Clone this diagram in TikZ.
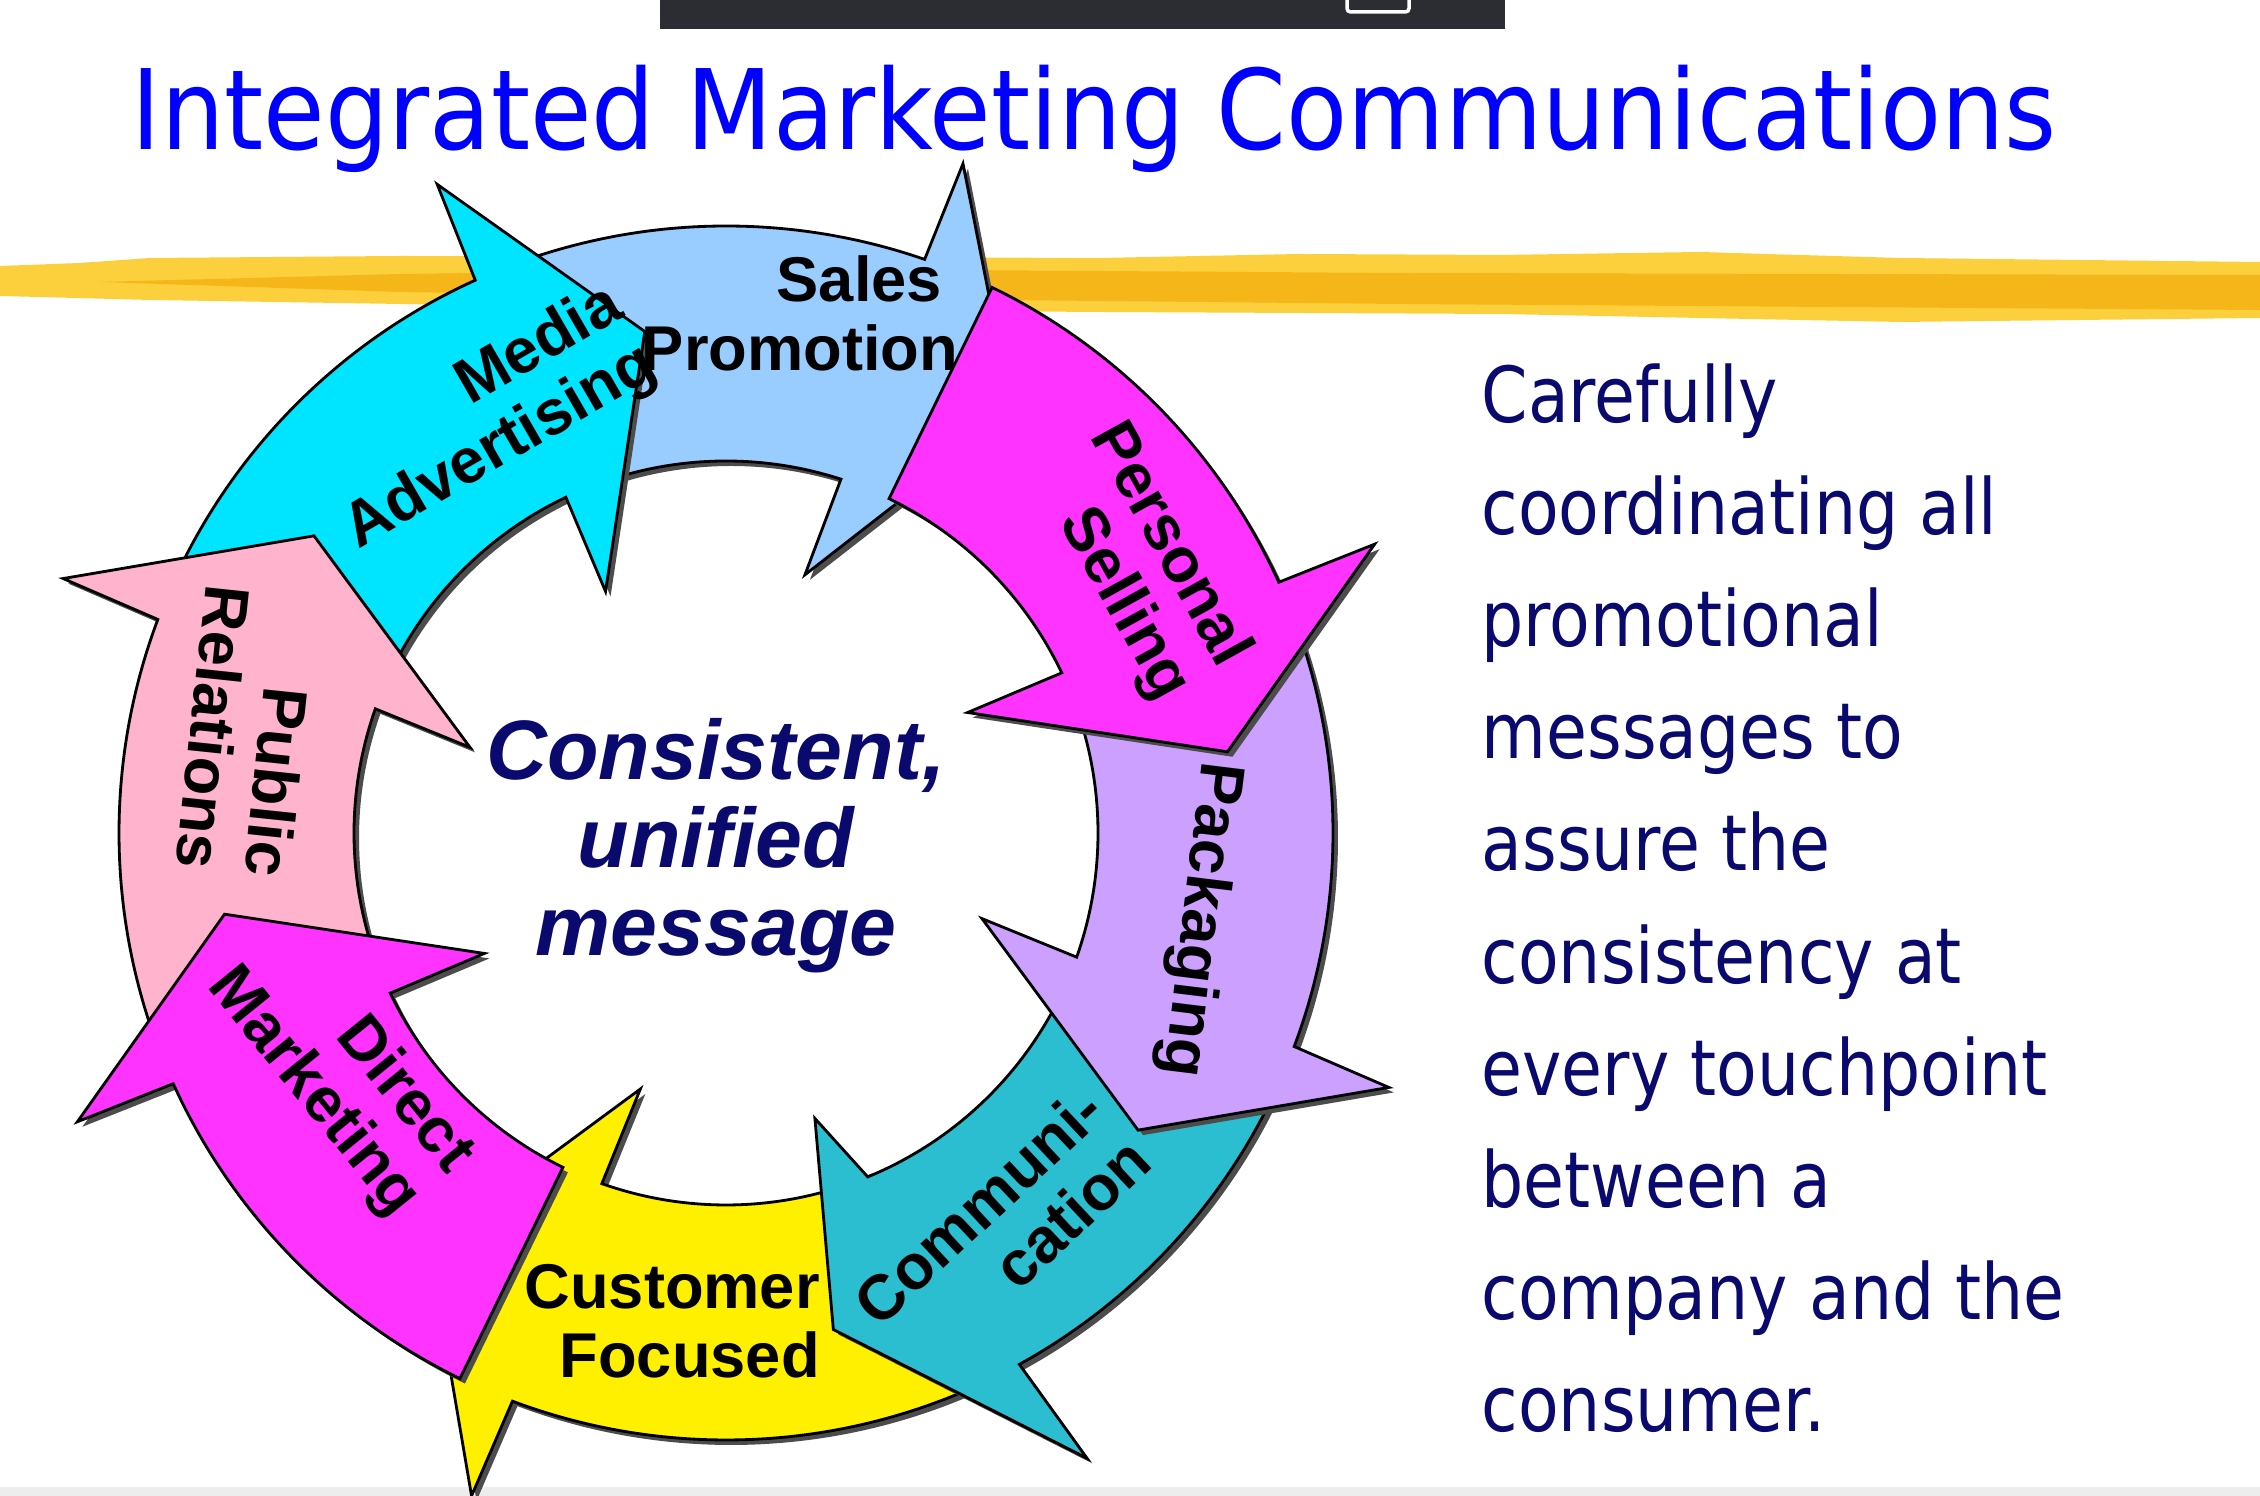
\documentclass[tikz,border=0pt]{standalone}
\usepackage{fontspec}
\setsansfont{Liberation Sans}
\newfontfamily\headfont[FakeStretch=0.9]{DejaVu Sans}
\newfontfamily\bodyfont[FakeStretch=0.86]{DejaVu Sans}
\usetikzlibrary{shadows}

\definecolor{titleblue}{RGB}{0,0,255}
\definecolor{inknavy}{RGB}{10,10,110}
\definecolor{barcharcoal}{RGB}{43,45,51}
\definecolor{brushlight}{RGB}{252,208,60}
\definecolor{brushdeep}{RGB}{242,172,10}
\definecolor{mediacyan}{RGB}{0,229,255}
\definecolor{salesblue}{RGB}{153,204,255}
\definecolor{pushmagenta}{RGB}{255,51,255}
\definecolor{packlilac}{RGB}{204,160,255}
\definecolor{commteal}{RGB}{43,190,208}
\definecolor{custyellow}{RGB}{255,240,0}
\definecolor{prpink}{RGB}{255,179,204}

\begin{document}
\begin{tikzpicture}[
  lbl/.style={font=\sffamily\bfseries\fontsize{18}{19.5}\selectfont, align=right, text=black, inner sep=0pt},
  coretext/.style={font=\sffamily\bfseries\itshape\fontsize{24}{25}\selectfont, text=inknavy, align=center, inner sep=0pt},
  blurb/.style={font=\bodyfont\fontsize{22}{31.9}\selectfont, text=inknavy, align=left, inner sep=0pt},
  heading/.style={font=\headfont\fontsize{31.6}{34}\selectfont, text=titleblue, inner sep=0pt},
  ringarrow/.style={draw=black, line width=0.8pt, line join=miter,
    drop shadow={shadow xshift=0.05cm, shadow yshift=-0.05cm, fill=black!70, opacity=1}}]
  \useasboundingbox (0,0) rectangle (22.6,14.96);
  \fill[white] (0,0) rectangle (22.6,14.96);
  \fill[black!7] (0,0) rectangle (22.6,0.09);

  % player bar at the top edge
  \fill[barcharcoal] (6.60,14.67) rectangle (15.05,14.96);
  \draw[white, line width=1pt, rounded corners=1pt] (13.47,15.10) rectangle (14.09,14.84);

  % brush stroke
  \fill[brushlight] (0,12.30) -- (0.8,12.33) -- (1.5,12.38) -- (4.0,12.40) -- (8,12.39) -- (11,12.38)
    -- (13,12.42) -- (15,12.41) -- (17,12.44) -- (19,12.38) -- (22.6,12.34) -- (22.6,11.78)
    -- (19,11.74) -- (15,11.82) -- (11,11.84) -- (8,11.86) -- (4,11.92) -- (1.5,11.96) -- (0,12.00) -- cycle;
  \fill[brushdeep, opacity=0.7] (1.0,12.14) -- (4,12.22) -- (8,12.27) -- (14,12.23) -- (22.6,12.21)
    -- (22.6,11.86) -- (14,11.92) -- (8,11.98) -- (4,12.04) -- cycle;

  % title
  \node[heading, anchor=base west] (title) at (1.31,13.46) {Integrated Marketing Communications};

  % ring of arrows: tail, outer shoulder, outer barb, its radius, tip, inner barb, its radius, inner shoulder
  \begin{scope}[shift={(7.26,6.63)}]
    \foreach \col/\tl/\os/\ob/\ro/\tp/\ib/\ri/\is in {
        salesblue/110.5/70.9/70.5/7.10/55.7/73/2.70/72,
        custyellow/-67/-110.6/-111/7.10/-125.8/-108.5/2.70/-109.5,
        commteal/-26/-61.1/-60/7.22/-77.8/-72.7/2.99/-67.6,
        packlilac/19/-20.6/-21/7.10/-35.8/-18.5/2.70/-19.5,
        pushmagenta/64/24.4/24/7.10/9.2/26.5/2.70/25.5,
        mediacyan/154/114.4/114/7.10/99.2/116.5/2.70/115.5,
        prpink/199/159.4/159/7.10/144.2/161.5/2.70/160.5,
        pushmagenta/244/204.4/204/7.10/189.2/206.5/2.70/205.5}
      \draw[ringarrow, fill=\col]
        (\tl:6.07) arc[start angle=\tl, end angle=\os, radius=6.07]
        -- (\ob:\ro) -- (\tp:5.08) -- (\ib:\ri) -- (\is:3.72)
        arc[start angle=\is, end angle=\tl, radius=3.72] -- cycle;

    \node[lbl, rotate=30] (media) at (120.3:4.80) {Media\\Advertising};
    \node[lbl] (sales) at (81.9:5.25) {Sales\kern0.16cm\\Promotion};
    \node[lbl, rotate=-61] (selling) at (33.3:4.94) {Personal\\Selling};
    \node[lbl, rotate=-97] (packaging) at (-10.4:4.81) {Packaging};
    \node[lbl, rotate=43] (communication) at (-55.3:4.84) {Communi-\\cation};
    \node[lbl] (customer) at (-96.3:4.91) {Customer\\Focused};
    \node[lbl, rotate=-51] (direct) at (211.6:4.54) {Direct\\Marketing};
    \node[lbl, rotate=-96] (relations) at (168:4.89) {Public\\Relations};

    \node[coretext] (core) at (-0.10,-0.13) {Consistent,\\unified\\message};
  \end{scope}

  % side text
  \node[blurb, anchor=north west] (blurb) at (14.81,11.33) {Carefully\\coordinating all\\promotional\\messages to\\assure the\\consistency at\\every touchpoint\\between a\\company and the\\consumer.};
\end{tikzpicture}
\end{document}
